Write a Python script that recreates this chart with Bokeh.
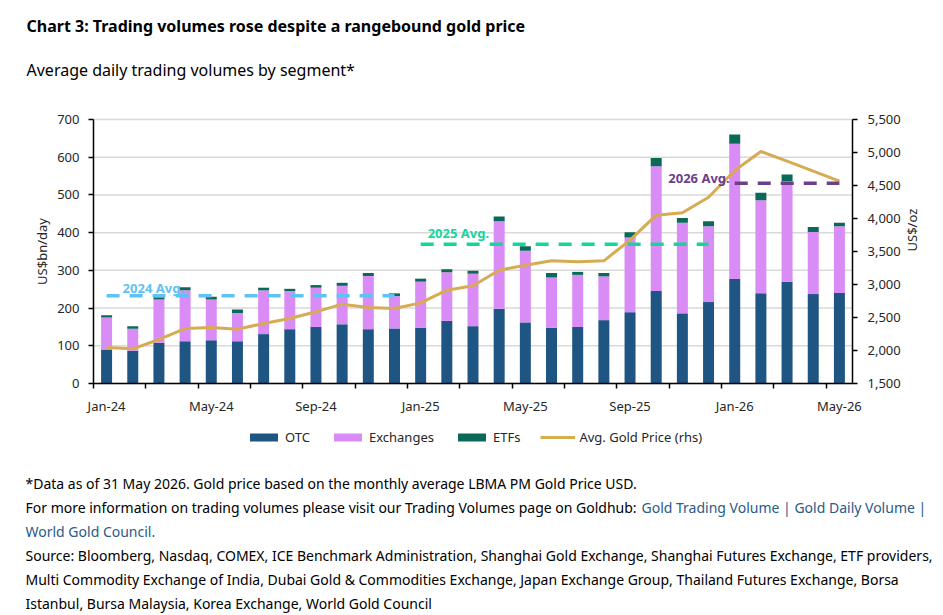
import math
from bokeh.plotting import figure
from bokeh.models import (Range1d, LinearAxis, FixedTicker, NumeralTickFormatter,
                          Legend, LegendItem, Label, ColumnDataSource)
from bokeh.embed import file_html
from bokeh.resources import INLINE

# ---------------- data ----------------
months = ["Jan-24", "Feb-24", "Mar-24", "Apr-24", "May-24", "Jun-24", "Jul-24", "Aug-24",
          "Sep-24", "Oct-24", "Nov-24", "Dec-24", "Jan-25", "Feb-25", "Mar-25", "Apr-25",
          "May-25", "Jun-25", "Jul-25", "Aug-25", "Sep-25", "Oct-25", "Nov-25", "Dec-25",
          "Jan-26", "Feb-26", "Mar-26", "Apr-26", "May-26"]
otc = [90, 87, 108, 112, 115, 112, 131, 144, 150, 157, 144, 146, 148, 166, 152, 198,
       162, 148, 150, 168, 189, 245, 186, 216, 277, 239, 270, 237, 240]
exchanges = [85, 58, 115, 135, 108, 75, 116, 101, 104, 102, 141, 86, 122, 129, 139, 232,
             190, 133, 138, 116, 198, 331, 240, 201, 359, 247, 267, 165, 177]
etfs = [6, 7, 6, 8, 7, 9, 7, 6, 7, 8, 8, 7, 8, 8, 8, 13,
        12, 12, 8, 9, 14, 22, 13, 13, 24, 20, 17, 13, 9]
gold_price = [2045, 2025, 2167, 2333, 2348, 2323, 2409, 2485, 2586, 2702, 2651, 2636,
              2722, 2914, 2980, 3217, 3293, 3359, 3343, 3359, 3672, 4051, 4086, 4323,
              4727, 5015, 4870, 4717, 4565]
avg_labels = ["2024 Avg.", "2025 Avg.", "2026 Avg."]
avg_values = [233, 369, 531]
avg_start = ["Jan-24", "Jan-25", "Jan-26"]
avg_end = ["Dec-24", "Dec-25", "May-26"]
x_tick_labels = ["Jan-24", "May-24", "Sep-24", "Jan-25", "May-25", "Sep-25", "Jan-26", "May-26"]
left_ticks = [0, 100, 200, 300, 400, 500, 600, 700]
right_ticks = [1500, 2000, 2500, 3000, 3500, 4000, 4500, 5000, 5500]

title_text = "Chart 3: Trading volumes rose despite a rangebound gold price"
subtitle_text = "Average daily trading volumes by segment*"
note1 = "*Data as of 31 May 2026. Gold price based on the monthly average LBMA PM Gold Price USD."
note2 = "For more information on trading volumes please visit our Trading Volumes page on Goldhub:"
link1 = "Gold Trading Volume | Gold Daily Volume |"
link2 = "World Gold Council."
note4 = "Source: Bloomberg, Nasdaq, COMEX, ICE Benchmark Administration, Shanghai Gold Exchange, Shanghai Futures Exchange, ETF providers,"
note5 = "Multi Commodity Exchange of India, Dubai Gold & Commodities Exchange, Japan Exchange Group, Thailand Futures Exchange, Borsa"
note6 = "Istanbul, Bursa Malaysia, Korea Exchange, World Gold Council"

# ---------------- styles / layout ----------------
FONT = "Noto Sans"
C_OTC = "#1f5583"
C_EXCH = "#da8cf6"
C_ETF = "#0a6a57"
C_GOLD = "#d6ab52"
C_AVG = ["#5ec2f2", "#16d59b", "#6c3f8a"]
TXT = "#262626"
LINK = "#2b5a86"
W, H = 943, 615
# chart area on the page (px)
CL, CR, CT, CB = 93, 852, 119, 383
NOTE_FS = "14px"

n = len(months)
x_lo, x_hi = -0.5, n - 0.5
y_lo, y_hi = left_ticks[0], left_ticks[-1]
g_lo, g_hi = right_ticks[0], right_ticks[-1]
ux = (CR - CL) / (x_hi - x_lo)
uy = (CB - CT) / (y_hi - y_lo)
ug = (CB - CT) / (g_hi - g_lo)

# the plot frame covers the whole canvas; ranges are stretched so the chart area
# lands where the reference has it, and the axes are pinned with fixed_location
x_range = Range1d(x_lo - CL / ux, x_hi + (W - CR) / ux)
y_range = Range1d(y_lo - (H - CB) / uy, y_hi + CT / uy)
g_range = Range1d(g_lo - (H - CB) / ug, g_hi + CT / ug)

p = figure(width=W, height=H, output_backend="svg", toolbar_location=None,
           x_range=x_range, y_range=y_range, x_axis_location=None, y_axis_location=None,
           min_border=0, outline_line_color=None,
           background_fill_color="white", border_fill_color="white")
p.title.visible = False
p.extra_y_ranges = {"gold": g_range}
p.grid.visible = False

# horizontal grid lines at the left-axis ticks, limited to the chart area
p.segment(x0=x_lo, x1=x_hi, y0=left_ticks, y1=left_ticks, line_color="#d9d9d9", line_width=1.5)

xi = list(range(n))
src = ColumnDataSource(dict(x=xi, otc=otc, exchanges=exchanges, etfs=etfs, gold=gold_price))
bars = p.vbar_stack(["otc", "exchanges", "etfs"], x="x", width=0.42, source=src,
                    color=[C_OTC, C_EXCH, C_ETF], line_color=None)
gl = p.line("x", "gold", source=src, y_range_name="gold", line_color=C_GOLD, line_width=3)

for v, s, e, c in zip(avg_values, avg_start, avg_end, C_AVG):
    p.segment(x0=months.index(s), y0=v, x1=months.index(e), y1=v,
              line_color=c, line_width=3.5, line_dash="13 10")

lab_cfg = [dict(x_offset=16, y_offset=8, text_align="left"),
           dict(x_offset=7, y_offset=11, text_align="left"),
           dict(x_offset=-5, y_offset=5, text_align="right")]
for lab, v, s, c, cfg in zip(avg_labels, avg_values, avg_start, C_AVG, lab_cfg):
    p.add_layout(Label(x=months.index(s), y=v, text=lab, text_color=c, text_font=FONT,
                       text_font_size="13px", text_font_style="bold",
                       text_baseline="alphabetic", **cfg))

# ---------------- axes ----------------
xa = LinearAxis(fixed_location=y_lo, bounds=(x_lo, x_hi),
                ticker=FixedTicker(ticks=[months.index(m) for m in x_tick_labels],
                                   minor_ticks=[i - 0.5 for i in range(0, n, 2)]))
xa.major_label_overrides = {months.index(m): m for m in x_tick_labels}
xa.major_tick_out = 0
xa.major_tick_in = 0
xa.minor_tick_out = 5
xa.minor_tick_in = 0
xa.major_label_standoff = 8
p.add_layout(xa, "below")

la = LinearAxis(fixed_location=x_lo, bounds=(y_lo, y_hi),
                ticker=FixedTicker(ticks=left_ticks, minor_ticks=[]), axis_label="US$bn/day")
la.major_tick_out = 5
la.major_tick_in = 0
la.minor_tick_out = 0
la.minor_tick_in = 0
la.major_label_standoff = 9
la.axis_label_standoff = 3
p.add_layout(la, "left")

ra = LinearAxis(y_range_name="gold", fixed_location=x_hi, bounds=(g_lo, g_hi),
                ticker=FixedTicker(ticks=right_ticks, minor_ticks=[]),
                formatter=NumeralTickFormatter(format="0,0"), axis_label="US$/oz")
ra.major_tick_out = 5
ra.major_tick_in = 0
ra.minor_tick_out = 0
ra.minor_tick_in = 0
ra.major_label_standoff = 10
ra.axis_label_standoff = 8
ra.axis_label_orientation = math.pi / 2
p.add_layout(ra, "right")

for ax in [xa, la, ra]:
    ax.axis_line_color = "black"
    ax.axis_line_width = 1.5
    ax.major_tick_line_color = "black"
    ax.major_tick_line_width = 1.5
    ax.minor_tick_line_color = "black"
    ax.minor_tick_line_width = 1.5
    ax.major_label_text_font = FONT
    ax.major_label_text_font_size = "13px"
    ax.major_label_text_color = TXT
    ax.axis_label_text_font = FONT
    ax.axis_label_text_font_size = "13px"
    ax.axis_label_text_font_style = "normal"
    ax.axis_label_text_color = TXT

# ---------------- legend ----------------
legend = Legend(items=[LegendItem(label="OTC", renderers=[bars[0]]),
                       LegendItem(label="Exchanges", renderers=[bars[1]]),
                       LegendItem(label="ETFs", renderers=[bars[2]]),
                       LegendItem(label="Avg. Gold Price (rhs)", renderers=[gl])],
                orientation="horizontal", location=(246, H - 447),
                glyph_width=35, glyph_height=10, label_standoff=4, spacing=20,
                padding=0, margin=0, border_line_color=None, background_fill_alpha=0,
                label_text_font=FONT, label_text_font_size="13px", label_text_color=TXT,
                label_height=20)
p.add_layout(legend, "center")


# ---------------- texts (screen px; y measured up from the page bottom) ----------------
def txt(text, x, baseline, size, color="black", bold=False):
    p.add_layout(Label(x=x, y=H - baseline, x_units="screen", y_units="screen", text=text,
                       text_font=FONT, text_font_size=size, text_color=color,
                       text_font_style="bold" if bold else "normal",
                       text_baseline="alphabetic"))


txt(title_text, 26, 25, "16px", bold=True)
txt(subtitle_text, 26, 69, "16px")
txt(note1, 25, 483, NOTE_FS)
txt(note2, 25, 507, NOTE_FS)
txt(link1, 641, 507, NOTE_FS, color=LINK)
txt(link2, 25, 531, NOTE_FS, color=LINK)
txt(note4, 25, 555, NOTE_FS)
txt(note5, 25, 579, NOTE_FS)
txt(note6, 25, 603, NOTE_FS)

open("out.html", "w").write(file_html(p, INLINE))
